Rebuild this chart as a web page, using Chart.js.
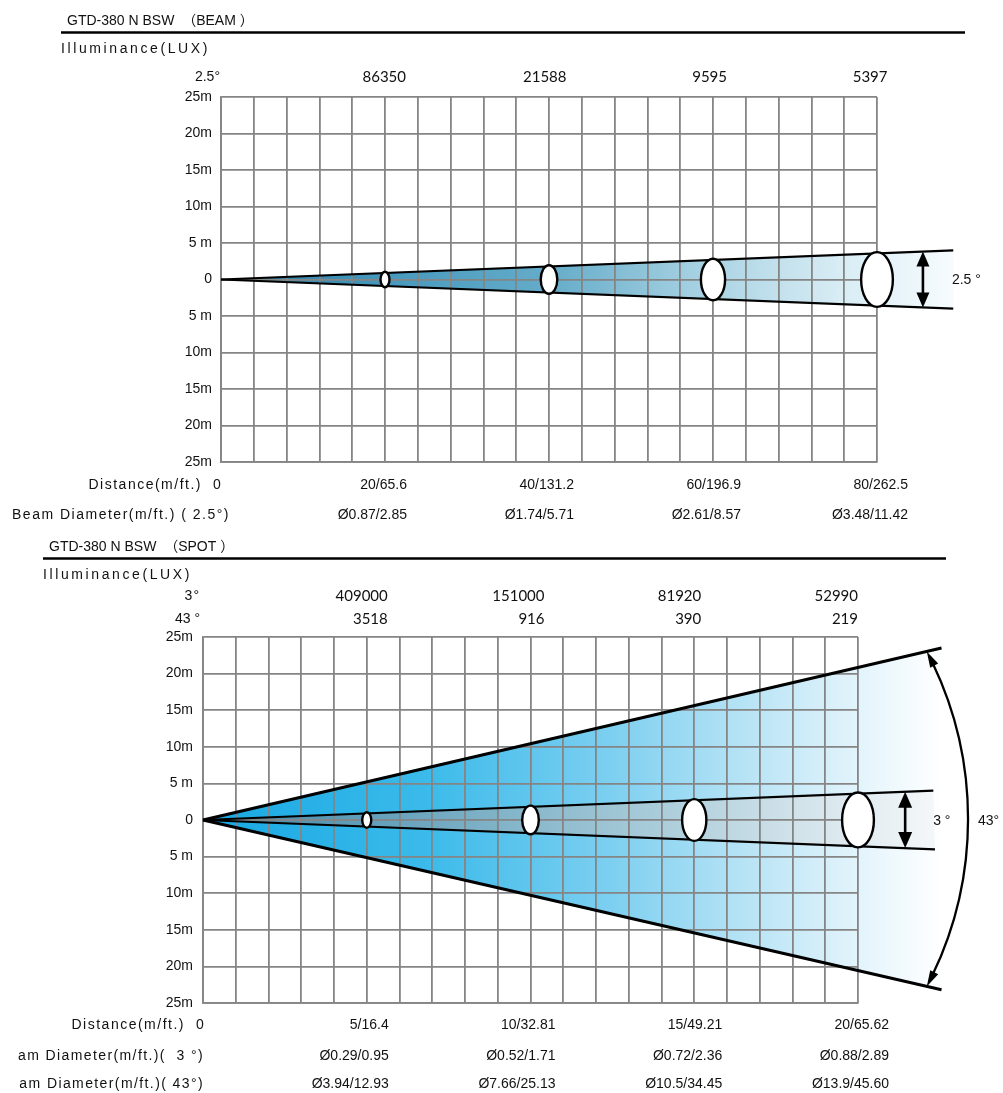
<!DOCTYPE html>
<html>
<head>
<meta charset="utf-8">
<script src="https://cdn.jsdelivr.net/npm/chart.js@4.4.1/dist/chart.umd.min.js"></script>
<style>
  html, body { margin: 0; padding: 0; background: #fff; }
  #wrap { position: relative; width: 1003px; height: 1093px; }
  canvas { position: absolute; left: 0; }
  #beamChart { top: 0; }
  #spotChart { top: 530px; }
</style>
</head>
<body>
<div id="wrap">
  <canvas id="beamChart" width="1003" height="530"></canvas>
  <canvas id="spotChart" width="1003" height="563"></canvas>
</div>
<script>
// ---- BEAM data ----
const beamAngle      = '2.5';
const beamDistances  = [20, 40, 60, 80];
const beamLux        = [86350, 21588, 9595, 5397];
const beamDistLabels = ['20/65.6', '40/131.2', '60/196.9', '80/262.5'];
const beamDiameters  = ['Ø0.87/2.85', 'Ø1.74/5.71', 'Ø2.61/8.57', 'Ø3.48/11.42'];
const beamEdgeTop    = [{ x: 0, y: 0 }, { x: 89.3, y: 4.0 }];
const beamEdgeBottom = [{ x: 0, y: 0 }, { x: 89.3, y: -4.0 }];

// ---- SPOT data ----
const spotDistances  = [5, 10, 15, 20];
const spotLuxNarrow  = [409000, 151000, 81920, 52990];
const spotLuxWide    = [3518, 916, 390, 219];
const spotDistLabels = ['5/16.4', '10/32.81', '15/49.21', '20/65.62'];
const spotDiamNarrow = ['Ø0.29/0.95', 'Ø0.52/1.71', 'Ø0.72/2.36', 'Ø0.88/2.89'];
const spotDiamWide   = ['Ø3.94/12.93', 'Ø7.66/25.13', 'Ø10.5/34.45', 'Ø13.9/45.60'];
const narrowTop      = [{ x: 0, y: 0 }, { x: 22.3, y: 4.0 }];
const narrowBottom   = [{ x: 0, y: 0 }, { x: 22.35, y: -4.0 }];
const wideTop        = [{ x: 0, y: 0 }, { x: 22.55, y: 23.5 }];
const wideBottom     = [{ x: 0, y: 0 }, { x: 22.55, y: -23.2 }];

const FONT = '"Liberation Sans", Arial, "Noto Sans CJK SC", sans-serif';
const NUM_FONT = 'Lato, "Liberation Sans", sans-serif';
const GRID = '#858585';
const INK = '#111';

const $ = id => document.getElementById(id);

function txt(ctx, s, x, y, opt = {}) {
  ctx.save();
  ctx.font = opt.font || `14px ${FONT}`;
  ctx.fillStyle = INK;
  ctx.textAlign = opt.align || 'left';
  ctx.textBaseline = 'middle';
  ctx.letterSpacing = opt.spacing || '0px';
  ctx.fillText(s, x, y);
  ctx.restore();
}

function edgeAt(line, xv) {
  const [a, b] = line;
  return a.y + (b.y - a.y) * (xv - a.x) / (b.x - a.x);
}

function fillCone(chart, top, bottom, stops) {
  const { ctx, scales: { x, y } } = chart;
  const x0 = x.getPixelForValue(top[0].x), y0 = y.getPixelForValue(top[0].y);
  const xt = x.getPixelForValue(top[1].x), yt = y.getPixelForValue(top[1].y);
  const xb = x.getPixelForValue(bottom[1].x), yb = y.getPixelForValue(bottom[1].y);
  const g = ctx.createLinearGradient(x0, 0, Math.max(xt, xb), 0);
  stops.forEach(([o, c]) => g.addColorStop(o, c));
  ctx.save();
  ctx.beginPath();
  ctx.moveTo(x0, y0); ctx.lineTo(xt, yt); ctx.lineTo(xb, yb); ctx.closePath();
  ctx.fillStyle = g;
  ctx.fill();
  ctx.restore();
}

function drawSpots(chart, dists, top, bottom) {
  const { ctx, scales: { x, y } } = chart;
  ctx.save();
  dists.forEach(d => {
    const px = x.getPixelForValue(d);
    const pt = y.getPixelForValue(edgeAt(top, d));
    const pb = y.getPixelForValue(edgeAt(bottom, d));
    const ry = Math.max(7.5, (pb - pt) / 2 + 1.2);
    ctx.beginPath();
    ctx.ellipse(px, (pt + pb) / 2, ry * 0.58, ry, 0, 0, Math.PI * 2);
    ctx.fillStyle = '#fff';
    ctx.fill();
    ctx.lineWidth = 2.4;
    ctx.strokeStyle = '#000';
    ctx.stroke();
  });
  ctx.restore();
}

function head(ctx, tx, ty, dx, dy, hl, hw) {
  const bx = tx - dx * hl, by = ty - dy * hl;
  ctx.beginPath();
  ctx.moveTo(tx, ty);
  ctx.lineTo(bx - dy * hw / 2, by + dx * hw / 2);
  ctx.lineTo(bx + dy * hw / 2, by - dx * hw / 2);
  ctx.closePath();
  ctx.fill();
}

function vArrow(chart, xv, top, bottom, hw, hl) {
  const { ctx, scales: { x, y } } = chart;
  const px = x.getPixelForValue(xv);
  const y1 = y.getPixelForValue(edgeAt(top, xv));
  const y2 = y.getPixelForValue(edgeAt(bottom, xv));
  ctx.save();
  ctx.fillStyle = '#000'; ctx.strokeStyle = '#000'; ctx.lineWidth = 2.6;
  ctx.beginPath(); ctx.moveTo(px, y1 + hl - 2); ctx.lineTo(px, y2 - hl + 2); ctx.stroke();
  head(ctx, px, y1, 0, -1, hl, hw);
  head(ctx, px, y2, 0, 1, hl, hw);
  ctx.restore();
  return px;
}

function circum(a, b, c) {
  const d = 2 * (a[0] * (b[1] - c[1]) + b[0] * (c[1] - a[1]) + c[0] * (a[1] - b[1]));
  const A = a[0] ** 2 + a[1] ** 2, B = b[0] ** 2 + b[1] ** 2, C = c[0] ** 2 + c[1] ** 2;
  return [
    (A * (b[1] - c[1]) + B * (c[1] - a[1]) + C * (a[1] - b[1])) / d,
    (A * (c[0] - b[0]) + B * (a[0] - c[0]) + C * (b[0] - a[0])) / d
  ];
}

function arcArrow(chart, top, bottom, tipX, midX) {
  const { ctx, scales: { x, y } } = chart;
  const p1 = [x.getPixelForValue(tipX), y.getPixelForValue(edgeAt(top, tipX))];
  const p3 = [x.getPixelForValue(tipX), y.getPixelForValue(edgeAt(bottom, tipX))];
  const p2 = [x.getPixelForValue(midX), y.getPixelForValue(0)];
  const [cx, cy] = circum(p1, p2, p3);
  const r = Math.hypot(p2[0] - cx, p2[1] - cy);
  const a1 = Math.atan2(p1[1] - cy, p1[0] - cx);
  const a3 = Math.atan2(p3[1] - cy, p3[0] - cx);
  const hl = 16, hw = 9;
  ctx.save();
  ctx.strokeStyle = '#000'; ctx.fillStyle = '#000'; ctx.lineWidth = 2.3;
  ctx.beginPath();
  ctx.arc(cx, cy, r, a1 + (hl - 3) / r, a3 - (hl - 3) / r, false);
  ctx.stroke();
  head(ctx, p1[0], p1[1], Math.sin(a1), -Math.cos(a1), hl, hw);
  head(ctx, p3[0], p3[1], -Math.sin(a3), Math.cos(a3), hl, hw);
  ctx.restore();
  return p2[0];
}

function header(ctx, title, x, y, lineX1, lineX2) {
  txt(ctx, title, x + 6, y);
  ctx.save();
  ctx.strokeStyle = '#000'; ctx.lineWidth = 2.6;
  ctx.beginPath(); ctx.moveTo(lineX1, y + 11.5); ctx.lineTo(lineX2, y + 11.5); ctx.stroke();
  ctx.restore();
  txt(ctx, 'Illuminance(LUX)', lineX1, y + 28, { spacing: '2.6px' });
}

const yLabel = v => v === 0 ? '0' : (Math.abs(v) === 5 ? '5 m' : Math.abs(v) + 'm');

const beamPlugin = {
  id: 'beamSheet',
  beforeDraw(chart) {
    fillCone(chart, beamEdgeTop, beamEdgeBottom, [
      [0, '#2b7ca4'], [0.25, '#4a9bbf'], [0.45, '#65acc9'],
      [0.65, '#a6d1e2'], [0.85, '#d9edf5'], [1, '#f7fbfd']
    ]);
  },
  afterDatasetsDraw(chart) {
    const { ctx, chartArea: area, scales: { x, y } } = chart;
    drawSpots(chart, beamDistances, beamEdgeTop, beamEdgeBottom);
    const ax = vArrow(chart, 85.6, beamEdgeTop, beamEdgeBottom, 13, 15);
    txt(ctx, beamAngle + ' °', ax + 29, y.getPixelForValue(0) + 1);

    header(ctx, 'GTD-380 N BSW  （BEAM ）', 61, 21, 61, 965);

    const luxY = area.top - 20;
    txt(ctx, beamAngle + '°', area.left - 1, luxY, { align: 'right' });
    beamLux.forEach((v, i) => {
      txt(ctx, String(v), x.getPixelForValue(beamDistances[i]) + 21 - 3.5 * i, luxY,
        { align: 'right', font: `15px ${NUM_FONT}` });
    });

    const dY = area.bottom + 23.5, bY = area.bottom + 53.5;
    txt(ctx, 'Distance(m/ft.)', area.left - 19, dY, { align: 'right', spacing: '1.5px' });
    txt(ctx, '0', area.left - 4, dY, { align: 'center' });
    txt(ctx, 'Beam Diameter(m/ft.) ( ' + beamAngle + '°)', area.left + 9, bY, { align: 'right', spacing: '1.5px' });
    beamDistances.forEach((d, i) => {
      const ex = x.getPixelForValue(d) + 22 + 3 * i;
      txt(ctx, beamDistLabels[i], ex, dY, { align: 'right' });
      txt(ctx, beamDiameters[i], ex, bY, { align: 'right' });
    });
  }
};

const spotPlugin = {
  id: 'spotSheet',
  beforeDraw(chart) {
    fillCone(chart, wideTop, wideBottom, [
      [0, '#17a8e3'], [0.3, '#3bbaea'], [0.55, '#7ccff0'],
      [0.75, '#bce5f6'], [0.9, '#e6f5fc'], [1, '#ffffff']
    ]);
    fillCone(chart, narrowTop, narrowBottom, [
      [0, '#3f86a8'], [0.3, '#6ea7bf'], [0.55, '#9cc4d4'],
      [0.8, '#cfe1e9'], [1, '#f4f7f9']
    ]);
  },
  afterDatasetsDraw(chart) {
    const { ctx, chartArea: area, scales: { x, y } } = chart;
    drawSpots(chart, spotDistances, narrowTop, narrowBottom);
    const ax = vArrow(chart, 21.44, narrowTop, narrowBottom, 14, 16);
    const zeroY = y.getPixelForValue(0);
    txt(ctx, '3 °', ax + 28, zeroY + 1);
    const mx = arcArrow(chart, wideTop, wideBottom, 22.1, 23.36);
    txt(ctx, '43°', mx + 10, zeroY + 1);

    header(ctx, 'GTD-380 N BSW  （SPOT ）', 43, 17, 43, 946);

    const l1 = area.top - 41, l2 = area.top - 18;
    txt(ctx, '3°', area.left - 3, l1, { align: 'right', spacing: '1px' });
    txt(ctx, '43 °', area.left - 3, l2, { align: 'right' });
    spotDistances.forEach((d, i) => {
      const ex = x.getPixelForValue(d) + 21 - 7 * i;
      txt(ctx, String(spotLuxNarrow[i]), ex, l1, { align: 'right', font: `15px ${NUM_FONT}` });
      txt(ctx, String(spotLuxWide[i]), ex, l2, { align: 'right', font: `15px ${NUM_FONT}` });
    });

    const dY = area.bottom + 22, n1 = area.bottom + 53, n2 = area.bottom + 81.5;
    txt(ctx, 'Distance(m/ft.)', area.left - 18, dY, { align: 'right', spacing: '1.5px' });
    txt(ctx, '0', area.left - 3, dY, { align: 'center' });
    txt(ctx, 'am Diameter(m/ft.)(  3 °)', area.left + 1, n1, { align: 'right', spacing: '1.4px' });
    txt(ctx, 'am Diameter(m/ft.)( 43°)', area.left + 1, n2, { align: 'right', spacing: '1.4px' });
    spotDistances.forEach((d, i) => {
      const ex = x.getPixelForValue(d) + 22 + 3 * i;
      txt(ctx, spotDistLabels[i], ex, dY, { align: 'right' });
      txt(ctx, spotDiamNarrow[i], ex, n1, { align: 'right' });
      txt(ctx, spotDiamWide[i], ex, n2, { align: 'right' });
    });
  }
};

function makeChart(id, cfg) {
  const gridOpts = { color: GRID, lineWidth: 1.8, drawTicks: false };
  const borderOpts = { color: GRID, width: 1.8 };
  return new Chart($(id), {
    type: 'scatter',
    data: {
      datasets: cfg.edges.map(e => ({
        data: e.data, showLine: true, borderColor: '#000', borderWidth: e.width,
        pointRadius: 0, pointHoverRadius: 0, clip: false, tension: 0
      }))
    },
    options: {
      responsive: false,
      animation: false,
      events: [],
      layout: { padding: cfg.padding },
      plugins: { legend: { display: false }, tooltip: { enabled: false } },
      scales: {
        x: {
          type: 'linear', min: 0, max: cfg.xMax,
          grid: gridOpts, border: borderOpts,
          ticks: { display: false, stepSize: cfg.xStep, maxTicksLimit: 100 },
          afterFit: s => { s.height = 0; }
        },
        y: {
          type: 'linear', min: -25, max: 25,
          grid: gridOpts, border: borderOpts,
          ticks: {
            stepSize: 5, padding: cfg.tickPad, color: INK,
            font: { family: FONT, size: 14 },
            callback: yLabel
          },
          afterFit: s => { s.width = cfg.axisWidth; }
        }
      }
    },
    plugins: [cfg.plugin]
  });
}

makeChart('beamChart', {
  edges: [{ data: beamEdgeTop, width: 2.2 }, { data: beamEdgeBottom, width: 2.2 }],
  padding: { left: 0, right: 126, top: 97, bottom: 68 },
  axisWidth: 221, tickPad: 9, xMax: 80, xStep: 4,
  plugin: beamPlugin
});

makeChart('spotChart', {
  edges: [
    { data: wideTop, width: 3 }, { data: wideBottom, width: 3 },
    { data: narrowTop, width: 2.2 }, { data: narrowBottom, width: 2.2 }
  ],
  padding: { left: 0, right: 145, top: 107, bottom: 90 },
  axisWidth: 203, tickPad: 10, xMax: 20, xStep: 1,
  plugin: spotPlugin
});
</script>
</body>
</html>
